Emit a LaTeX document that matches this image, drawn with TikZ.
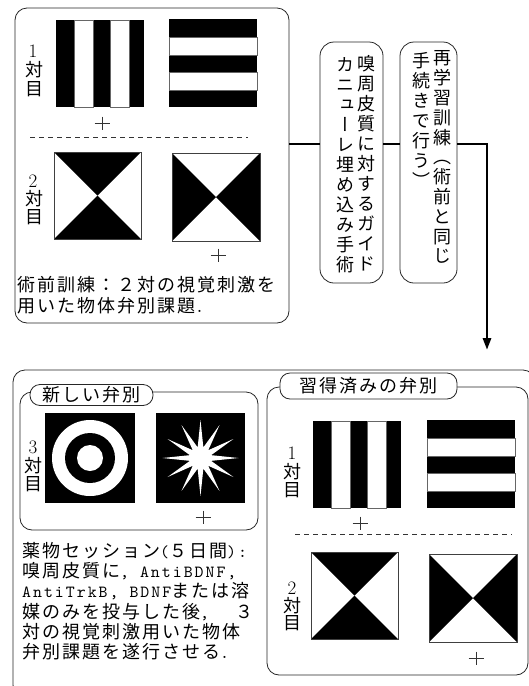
\documentclass[tikz,border=0pt]{standalone}
\usepackage{fontspec}
\usetikzlibrary{arrows.meta}
\newfontfamily\jpfam[LetterSpace=11.1]{Noto Sans CJK JP}
\newfontfamily\jpvfam[RawFeature=+vert]{Noto Sans CJK JP}
\newfontfamily\monofam[LetterSpace=11.8]{lmmono10-regular.otf}
\newcommand\jpf{\jpfam\fontsize{18}{20}\selectfont}
\newcommand\jpvf{\jpvfam\fontsize{18}{20}\selectfont}
\newcommand\mnf{\monofam\fontsize{17}{20}\selectfont}
\newcommand\dgf{\fontsize{19}{20}\selectfont}

\tikzset{
 boxframe/.style={draw=black!85, line width=0.8pt, rounded corners=12pt, inner sep=0pt},
 titletab/.style={draw=black!85, line width=0.8pt, fill=white, rounded corners=10pt, inner sep=0pt, font=\jpf},
 conn/.style={line width=2.8pt},
 jline/.style={inner sep=0pt, anchor=west, text height=15.8pt, text depth=2.2pt, font=\jpf},
 vch/.style={inner sep=0pt, text height=15.8pt, text depth=2.2pt, font=\jpvf},
 labch/.style={inner sep=0pt, font=\jpvf},
 digit/.style={inner sep=0pt, font=\dgf},
 fixcross/.style={line width=0.7pt, black!80},
 dashsep/.style={dash pattern=on 5pt off 4pt, line width=0.8pt, black!80},
 stimedge/.style={draw=black!60, line width=0.5pt},
 vstripes/.pic={
   \fill[black] (0,0) rectangle (88,87);
   \filldraw[fill=white, stimedge] (18,0) rectangle (37,87) (54,0) rectangle (73,87);
 },
 hstripes/.pic={
   \fill[black] (0,0) rectangle (88,88);
   \filldraw[fill=white, stimedge] (0,18) rectangle (88,36) (0,53) rectangle (88,71);
 },
 hourglass/.pic={
   \fill[white] (0,0) rectangle (87,87);
   \fill[black] (0,0) -- (87,0) -- (43.5,43.5) -- cycle;
   \fill[black] (0,87) -- (87,87) -- (43.5,43.5) -- cycle;
   \draw[black!75, line width=0.7pt] (0,0) rectangle (87,87);
 },
 bowtie/.pic={
   \fill[white] (0,0) rectangle (88,88);
   \fill[black] (0,0) -- (0,88) -- (44,44) -- cycle;
   \fill[black] (88,0) -- (88,88) -- (44,44) -- cycle;
   \draw[black!75, line width=0.7pt] (0,0) rectangle (88,88);
 },
 rings/.pic={
   \fill[black] (0,0) rectangle (90,90);
   \fill[white] (45,45) circle[radius=38];
   \fill[black] (45,45) circle[radius=25];
   \fill[white] (45,45) circle[radius=13];
 },
 starimg/.pic={
   \fill[black] (0,0) rectangle (89,90);
   \begin{scope}[shift={(44.5,45)}]
     \fill[white] (0:38) \foreach \k in {1,...,23}{ -- ({\k*15}:{mod(\k,2)*(-27)+38}) } -- cycle;
   \end{scope}
 },
 fixmark/.pic={
   \draw[fixcross] (-7.5,0) -- (7.5,0) (0,-6.5) -- (0,6.5);
 },
}

\begin{document}
\begin{tikzpicture}[x=1pt,y=-1pt]
\useasboundingbox (0,0) rectangle (529,686);

% ---------- top row: flow boxes ----------
\node[boxframe, minimum width=274pt, minimum height=315pt] (tl) at (152,165.5) {};
\node[boxframe, rounded corners=14pt, minimum width=63pt, minimum height=241pt] (b2) at (351.5,162.5) {};
\node[boxframe, rounded corners=14pt, minimum width=57pt, minimum height=241pt] (b3) at (428.5,162.5) {};
\coordinate (lvl) at (0,144);
\coordinate (tip) at (487,350);
\draw[conn] (tl.east |- lvl) -- (b2.west |- lvl);
\draw[conn] (b2.east |- lvl) -- (b3.west |- lvl);
\draw[conn, -{Triangle[length=12pt,width=8pt]}] (b3.east |- lvl) -| (tip);

% top-left box contents
\pic at (56,20) {vstripes};
\pic at (169,19) {hstripes};
\pic at (102,123) {fixmark};
\draw[dashsep] (30,137) -- (248,137);
\pic at (54,152) {hourglass};
\pic at (172,153) {bowtie};
\pic at (218,255) {fixmark};
\node[digit] (ta1) at (33,51.5) {1};
\node[labch] (ta2) at (34,69.5) {対};
\node[labch] (ta3) at (34,89.5) {目};
\node[digit] (tb1) at (33,181) {2};
\node[labch] (tb2) at (34,199) {対};
\node[labch] (tb3) at (34,217) {目};
\node[jline] (pre1) at (17,285) {術前訓練：２対の視覚刺激を};
\node[jline] (pre2) at (17,306) {用いた物体弁別課題{\mnf.}};

% vertical text columns
\foreach \ch [count=\i from 0] in {嗅,周,皮,質,に,対,す,る,ガ,イ,ド}
  \node[vch] (bR\i) at (366,64+20*\i) {\ch};
\foreach \ch [count=\i from 0] in {カ,ニ,ュ,ー,レ,埋,め,込,み,手,術}
  \node[vch] (bL\i) at (345,65+20*\i) {\ch};
\foreach \ch [count=\i from 0] in {再,学,習,訓,練,（,術,前,と,同,じ}
  \node[vch] (cR\i) at (442,58+19.8*\i) {\ch};
\foreach \ch [count=\i from 0] in {手,続,き,で,行,う,）}
  \node[vch] (cL\i) at (421,61+20*\i) {\ch};

% ---------- bottom big box ----------
\begin{scope}
  \clip (0,0) rectangle (529,686);
  \node[boxframe, minimum width=522pt, minimum height=327pt] (big) at (274,533.5) {};
\end{scope}

% left group: new discrimination
\node[boxframe, minimum width=238pt, minimum height=138pt] (g1) at (139,461) {};
\node[titletab, minimum width=123pt, minimum height=21pt] (t1) at (91.5,395) {新しい弁別};
\pic at (45,413) {rings};
\pic at (156,413) {starimg};
\pic at (203,517) {fixmark};
\node[digit] (gc1) at (33,447.5) {3};
\node[labch] (gc2) at (33,465.5) {対};
\node[labch] (gc3) at (33,484) {目};

\node[jline] (d1) at (22,550.5) {薬物セッション{\mnf(}５日間{\mnf):}};
\node[jline] (d2) at (22,570.8) {嗅周皮質に{\mnf, AntiBDNF,}};
\node[jline] (d3) at (22,591) {{\mnf AntiTrkB, BDNF}または溶};
\node[jline] (d4) at (22,611.2) {媒のみを投与した後{\mnf,}\hspace{26pt}３};
\node[jline] (d5) at (22,631.5) {対の視覚刺激用いた物体};
\node[jline] (d6) at (22,651.7) {弁別課題を遂行させる{\mnf.}};

% right group: learned discrimination
\node[boxframe, minimum width=261pt, minimum height=288pt] (g2) at (397.5,531) {};
\node[titletab, minimum width=177pt, minimum height=26pt] (t2) at (368.5,386) {習得済みの弁別};
\pic at (313,421) {vstripes};
\pic at (427,420) {hstripes};
\pic at (360,523) {fixmark};
\draw[dashsep] (295,534) -- (512,534);
\pic at (311,552) {hourglass};
\pic at (429,554) {bowtie};
\pic at (476,658) {fixmark};
\node[digit] (ra1) at (292,453.5) {1};
\node[labch] (ra2) at (292,471.5) {対};
\node[labch] (ra3) at (292,490) {目};
\node[digit] (rb1) at (292,588.5) {2};
\node[labch] (rb2) at (292,606) {対};
\node[labch] (rb3) at (292,623.5) {目};
\end{tikzpicture}
\end{document}
